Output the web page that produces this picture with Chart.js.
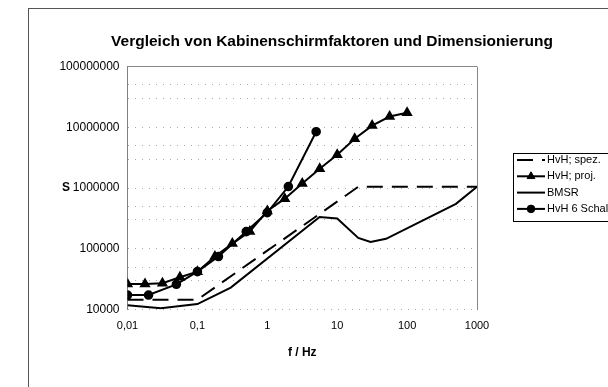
<!DOCTYPE html>
<html>
<head>
<meta charset="utf-8">
<script src="https://cdn.jsdelivr.net/npm/chart.js@4.4.0/dist/chart.umd.min.js"></script>
<style>
  html, body { margin: 0; padding: 0; background: #fff; overflow: hidden; }
  #frame {
    position: absolute; left: 28px; top: 8px;
    width: 606px; height: 420px;
    border-left: 1px solid #555; border-top: 1px solid #555;
  }
  #frame canvas { display: block; }
</style>
</head>
<body>
<div id="frame"><canvas id="shieldChart" width="606" height="420"></canvas></div>
<script>
// frequency axis ticks
const freqTicks = [0.01, 0.1, 1, 10, 100, 1000]
const freqLabels = ["0,01", "0,1", "1", "10", "100", "1000"]

// shielding factor axis: labelled decades plus dotted rows in between
const sTicks = [10000, 100000, 1000000, 10000000, 100000000]
const sLabels = ["10000", "100000", "1000000", "10000000", "100000000"]
const sRows = [10000, 30000, 50000, 100000, 300000, 500000, 1000000, 3000000, 5000000,
  10000000, 30000000, 50000000, 100000000]

// HvH; spez.
const spezF = [0.01, 0.1, 20, 1000]
const spezS = [14500, 14500, 1050000, 1050000]

// HvH; proj.
const projF = [0.01, 0.0178, 0.0316, 0.0562, 0.1, 0.178, 0.316, 0.562, 1, 1.78, 3.16, 5.62, 10, 17.8, 31.6, 56.2, 100]
const projS = [26300, 26300, 27000, 33900, 42000, 74500, 122000, 192000, 420000, 670000, 1190000,
  2090000, 3550000, 6500000, 10700000, 15100000, 17400000]

// BMSR
const bmsrF = [0.01, 0.03, 0.1, 0.3, 5.6, 10, 20, 30, 50, 500, 1000]
const bmsrS = [11800, 10500, 12300, 23000, 335000, 315000, 151000, 130000, 146000, 550000, 1050000]

// HvH 6 Schalen
const schalF = [0.01, 0.02, 0.05, 0.1, 0.2, 0.5, 1, 2, 5]
const schalS = [17300, 17300, 26000, 42000, 74500, 192000, 395000, 1060000, 8500000]

const chartTitle = "Vergleich von Kabinenschirmfaktoren und Dimensionierung"
const FONT = '"Liberation Sans", Arial, sans-serif'

const pairs = (xs, ys) => xs.map((x, i) => ({ x: x, y: ys[i] }))

// legend in a framed box to the right of the plot
const boxedLegend = {
  id: "boxedLegend",
  afterDraw(chart) {
    const ctx = chart.ctx
    const x0 = 484, y0 = 144, rowH = 16.3
    ctx.save()
    ctx.strokeStyle = "#000"
    ctx.lineWidth = 1
    ctx.setLineDash([])
    ctx.strokeRect(x0 + 0.5, y0 + 0.5, 200, 68)

    chart.data.datasets.forEach((ds, i) => {
      const y = y0 + 7 + i * rowH
      ctx.strokeStyle = ds.borderColor
      ctx.lineWidth = ds.borderWidth
      ctx.setLineDash(ds.borderDash || [])
      ctx.beginPath()
      ctx.moveTo(x0 + 4, y)
      ctx.lineTo(x0 + 32, y)
      ctx.stroke()
      ctx.setLineDash([])
      if (ds.pointRadius > 0) {
        ctx.fillStyle = ds.pointBackgroundColor
        ctx.lineWidth = 1
        Chart.helpers.drawPoint(ctx, {
          pointStyle: ds.pointStyle, radius: ds.pointRadius, rotation: 0, borderWidth: 1
        }, x0 + 18, y)
      }
      ctx.fillStyle = "#000"
      ctx.font = "11px " + FONT
      ctx.textAlign = "left"
      ctx.textBaseline = "middle"
      ctx.fillText(ds.label, x0 + 34, y)
    })
    ctx.restore()
  }
}

// title centred over the whole frame, upright "S" next to the value axis
const frameTexts = {
  id: "frameTexts",
  afterDraw(chart) {
    const ctx = chart.ctx
    const area = chart.chartArea
    ctx.save()
    ctx.fillStyle = "#000"
    ctx.textAlign = "center"
    ctx.textBaseline = "middle"
    ctx.font = "bold 15.5px " + FONT
    ctx.fillText(chartTitle, 303, 33)
    ctx.font = "bold 12px " + FONT
    ctx.fillText("S", 37, (area.top + area.bottom) / 2)
    ctx.restore()
  }
}

const lineStyle = {
  borderColor: "#000",
  backgroundColor: "#000",
  pointBackgroundColor: "#000",
  pointBorderColor: "#000",
  borderWidth: 2,
  tension: 0,
  fill: false
}

new Chart(document.getElementById("shieldChart"), {
  type: "line",
  data: {
    datasets: [
      { ...lineStyle, label: "HvH; spez.", data: pairs(spezF, spezS), borderDash: [16, 9], pointRadius: 0 },
      { ...lineStyle, label: "HvH; proj.", data: pairs(projF, projS), pointStyle: "triangle", pointRadius: 4.5 },
      { ...lineStyle, label: "BMSR", data: pairs(bmsrF, bmsrS), pointRadius: 0 },
      { ...lineStyle, label: "HvH 6 Schalen", data: pairs(schalF, schalS), pointStyle: "circle", pointRadius: 3.8 }
    ]
  },
  options: {
    responsive: false,
    animation: false,
    layout: { padding: { left: 0, right: 158, top: 57.7, bottom: 59.5 } },
    plugins: {
      legend: { display: false },
      tooltip: { enabled: false },
      title: { display: false }
    },
    scales: {
      x: {
        type: "logarithmic",
        min: 0.01,
        max: 1000,
        afterBuildTicks: scale => { scale.ticks = freqTicks.map(v => ({ value: v })) },
        afterFit: scale => { scale.height = 60 },
        ticks: {
          autoSkip: false,
          maxRotation: 0,
          padding: 10,
          color: "#000",
          font: { family: FONT, size: 11 },
          callback: value => {
            const i = freqTicks.indexOf(value)
            return i >= 0 ? freqLabels[i] : ""
          }
        },
        grid: {
          drawTicks: false,
          color: ctx => (ctx.tick && ctx.tick.value === 1000) ? "#888" : "rgba(0,0,0,0)"
        },
        border: { display: false },
        title: {
          display: true,
          text: "f / Hz",
          color: "#000",
          font: { family: FONT, size: 12, weight: "bold" },
          padding: { top: 0, bottom: 9.3 }
        }
      },
      y: {
        type: "logarithmic",
        min: 10000,
        max: 100000000,
        afterBuildTicks: scale => { scale.ticks = sRows.map(v => ({ value: v })) },
        afterFit: scale => { scale.width = 98.5 },
        ticks: {
          autoSkip: false,
          padding: 8,
          color: "#000",
          font: { family: FONT, size: 12 },
          callback: value => {
            const i = sTicks.indexOf(value)
            return i >= 0 ? sLabels[i] : ""
          }
        },
        grid: {
          drawTicks: false,
          color: ctx => (ctx.tick && ctx.tick.value === 100000000) ? "#888" : "#a8a8a8"
        },
        border: {
          display: true,
          color: "#808080",
          width: 1,
          dash: ctx => (ctx.tick && ctx.tick.value !== 100000000) ? [1, 6] : []
        }
      }
    }
  },
  plugins: [boxedLegend, frameTexts]
})
</script>
</body>
</html>
